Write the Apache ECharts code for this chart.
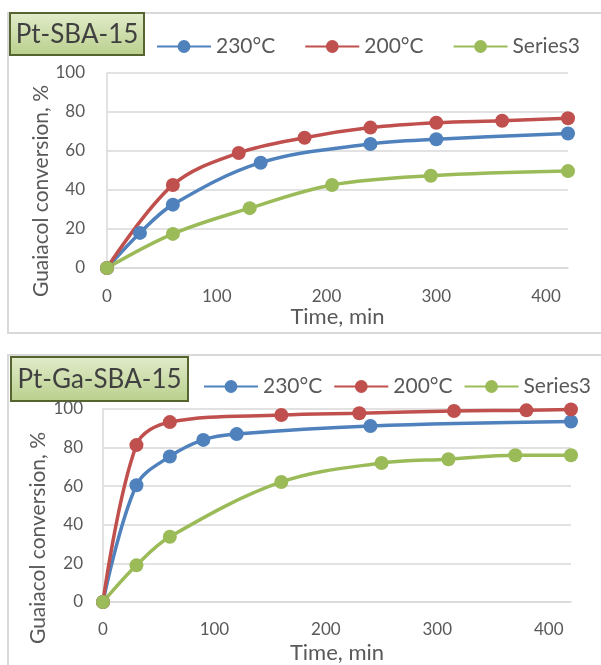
<!DOCTYPE html>
<html>
<head>
<meta charset="utf-8">
<script src="https://cdn.jsdelivr.net/npm/echarts@6/dist/echarts.min.js"></script>
<style>
  html, body { margin: 0; padding: 0; background: #fff; }
  #chart { width: 601px; height: 665px; }
</style>
</head>
<body>
<div id="chart"></div>
<script>
// 面板标题 / 图例名
const panelTitles = ['Pt-SBA-15', 'Pt-Ga-SBA-15']
const seriesNames = ['230°C', '200°C', 'Series3']
const xTicks = [0, 100, 200, 300, 400]
const yTicks = [0, 20, 40, 60, 80, 100]

// Pt-SBA-15 数据
const sbaTime230 = [0, 30, 60, 140, 240, 300, 420]
const sbaConv230 = [0, 18, 32.5, 54, 63.6, 66, 69]
const sbaTime200 = [0, 60, 120, 180, 240, 300, 360, 420]
const sbaConv200 = [0, 42.6, 59, 66.8, 72, 74.5, 75.5, 76.8]
const sbaTime3 = [0, 60, 130, 205, 295, 420]
const sbaConv3 = [0, 17.5, 30.7, 42.6, 47.3, 49.7]

// Pt-Ga-SBA-15 数据
const gaTime230 = [0, 30, 60, 90, 120, 240, 420]
const gaConv230 = [0, 60.5, 75.4, 84, 87, 91.2, 93.5]
const gaTime200 = [0, 30, 60, 160, 230, 315, 380, 420]
const gaConv200 = [0, 81.3, 93.2, 96.9, 97.8, 99, 99.3, 99.8]
const gaTime3 = [0, 30, 60, 160, 250, 310, 370, 420]
const gaConv3 = [0, 19, 33.8, 62.2, 72, 74, 76, 76]

const colors = ['#4F81BD', '#C0504D', '#9BBB59']
const textColor = '#595959'
const gridColor = '#D9D9D9'
const font = 'Lato'

function pairs (xs, ys) {
  return xs.map((x, i) => [x, ys[i]])
}

function lineSeries (name, idx, data, colorIdx) {
  return {
    type: 'line',
    name: name,
    xAxisIndex: idx,
    yAxisIndex: idx,
    data: data,
    smooth: 0.35,
    symbol: 'circle',
    symbolSize: 14,
    showAllSymbol: true,
    color: colors[colorIdx],
    lineStyle: { width: 3.5, color: colors[colorIdx] },
    itemStyle: { color: colors[colorIdx] }
  }
}

function xAxisOpt (idx, nameGap, margin) {
  return {
    type: 'value',
    gridIndex: idx,
    min: xTicks[0],
    max: 420,
    interval: 100,
    name: 'Time, min',
    nameLocation: 'middle',
    nameGap: nameGap,
    nameTextStyle: { fontFamily: font, fontSize: 22, color: textColor },
    axisLine: { show: true, lineStyle: { color: gridColor, width: 1.5 } },
    axisTick: { show: false },
    splitLine: { show: false },
    axisLabel: {
      margin: margin,
      fontFamily: font,
      fontSize: 17,
      color: textColor,
      showMaxLabel: false
    }
  }
}

function yAxisOpt (idx, margin) {
  return {
    type: 'value',
    gridIndex: idx,
    min: yTicks[0],
    max: yTicks[yTicks.length - 1],
    interval: 20,
    axisLine: { show: true, lineStyle: { color: gridColor, width: 1.5 } },
    axisTick: { show: false },
    splitLine: { show: true, lineStyle: { color: gridColor, width: 1.5 } },
    axisLabel: { margin: margin, fontFamily: font, fontSize: 17, color: textColor }
  }
}

function legendOpt (left, top, gap) {
  return {
    left: left,
    top: top,
    width: 560,
    padding: 0,
    itemWidth: 54,
    itemHeight: 16,
    itemGap: gap,
    data: seriesNames,
    textStyle: { fontFamily: font, fontSize: 21, color: textColor }
  }
}

function titleBox (x, y, w, h, text) {
  return {
    type: 'group',
    children: [
      {
        type: 'rect',
        shape: { x: x, y: y, width: w, height: h },
        style: {
          fill: new echarts.graphic.LinearGradient(0, 0, 0, 1, [
            { offset: 0, color: '#E2ECCB' },
            { offset: 1, color: '#B9CF8C' }
          ]),
          stroke: '#56652F',
          lineWidth: 2
        }
      },
      {
        type: 'text',
        x: x + w / 2,
        y: y + h / 2 + 1,
        style: {
          text: text,
          align: 'center',
          verticalAlign: 'middle',
          fontFamily: font,
          fontSize: 26,
          fill: '#404040'
        }
      }
    ]
  }
}

function yName (x, y) {
  return {
    type: 'text',
    x: x,
    y: y,
    rotation: Math.PI / 2,
    style: {
      text: 'Guaiacol conversion, %',
      align: 'center',
      verticalAlign: 'middle',
      fontFamily: font,
      fontSize: 21,
      fill: textColor
    }
  }
}

const chart = echarts.init(document.getElementById('chart'), null, { renderer: 'canvas' })
chart.setOption({
  animation: false,
  backgroundColor: '#fff',
  grid: [
    { left: 107, top: 73, width: 461, height: 195 },
    { left: 103, top: 409, width: 468, height: 196 }
  ],
  legend: [
    legendOpt(156, 36, 29),
    legendOpt(203, 376, 11)
  ],
  xAxis: [xAxisOpt(0, 38, 20), xAxisOpt(1, 40, 19)],
  yAxis: [yAxisOpt(0, 22), yAxisOpt(1, 20)],
  graphic: [
    {
      type: 'rect',
      z: -10,
      shape: { x: 8, y: 13, width: 700, height: 320 },
      style: { fill: 'none', stroke: gridColor, lineWidth: 2 }
    },
    {
      type: 'rect',
      z: -10,
      shape: { x: 8, y: 355, width: 700, height: 400 },
      style: { fill: 'none', stroke: gridColor, lineWidth: 2 }
    },
    titleBox(10, 13, 134, 42, panelTitles[0]),
    titleBox(11, 357, 177, 44, panelTitles[1]),
    yName(41, 191),
    yName(38, 538)
  ],
  series: [
    lineSeries(seriesNames[0], 0, pairs(sbaTime230, sbaConv230), 0),
    lineSeries(seriesNames[1], 0, pairs(sbaTime200, sbaConv200), 1),
    lineSeries(seriesNames[2], 0, pairs(sbaTime3, sbaConv3), 2),
    lineSeries(seriesNames[0], 1, pairs(gaTime230, gaConv230), 0),
    lineSeries(seriesNames[1], 1, pairs(gaTime200, gaConv200), 1),
    lineSeries(seriesNames[2], 1, pairs(gaTime3, gaConv3), 2)
  ]
})
</script>
</body>
</html>
